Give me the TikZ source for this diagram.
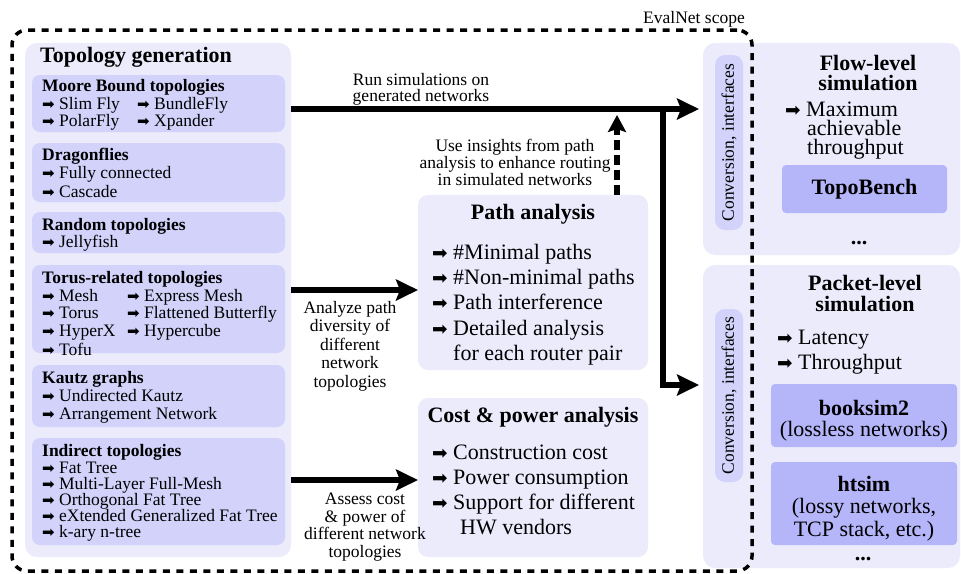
\documentclass[tikz,border=0pt]{standalone}
\usepackage{fontspec}
\setmainfont{Liberation Serif}
\newfontfamily\dejavu{DejaVu Sans}
\usetikzlibrary{arrows.meta}
\definecolor{lightp}{RGB}{235,235,252}
\definecolor{midp}{RGB}{210,210,251}
\definecolor{darkp}{RGB}{181,181,250}
\newcommand\fs{\fontsize{17.5}{17.5}\selectfont}
\newcommand\fl{\fontsize{22}{22}\selectfont}
\newcommand\arS{{\dejavu\fontsize{15}{15}\selectfont ➡}}
\newcommand\arL{{\dejavu\fontsize{18.5}{18.5}\selectfont ➡}}
\begin{document}
\begin{tikzpicture}[x=1pt,y=-1pt,
  panel/.style={fill=lightp, rounded corners=12pt, anchor=north west, inner sep=0pt, outer sep=0pt},
  subbox/.style={fill=midp, rounded corners=8pt, anchor=north west, inner sep=0pt, outer sep=0pt},
  toolbox/.style={fill=darkp, rounded corners=4pt, anchor=north west, inner sep=0pt, outer sep=0pt},
  txt/.style={anchor=base west, inner sep=0pt, font=\fs},
  txtc/.style={anchor=base, inner sep=0pt, font=\fs},
  btxt/.style={anchor=base west, inner sep=0pt, font=\fl},
  btxtc/.style={anchor=base, inner sep=0pt, font=\fl},
  tight/.style={text height=13pt, text depth=3pt},
  big/.style={line width=6pt, -{Stealth[length=22pt,width=21pt,inset=4pt]}},
  bigdash/.style={line width=6pt, dash pattern=on 10pt off 5pt, -{Stealth[length=17pt,width=18pt,inset=3pt]}},
  scopeline/.style={draw, line width=3.5pt, dash pattern=on 7pt off 6.5pt, rounded corners=15pt, anchor=north west, inner sep=0pt, outer sep=0pt}
]
\useasboundingbox (0,0) rectangle (961,573);

% ---------- left panel ----------
\node[panel, minimum width=266pt, minimum height=514pt] (topo) at (25,43) {};
\node[btxt, font=\fl\bfseries] (topot) at (40,62.5) {Topology generation};

\node[subbox, minimum width=253pt, minimum height=57pt] (s1) at (32,75) {};
\node[subbox, minimum width=253pt, minimum height=59pt] (s2) at (32,143) {};
\node[subbox, minimum width=253pt, minimum height=41pt] (s3) at (32,212) {};
\node[subbox, minimum width=253pt, minimum height=88pt] (s4) at (32,265) {};
\node[subbox, minimum width=253pt, minimum height=62pt] (s5) at (32,365) {};
\node[subbox, minimum width=253pt, minimum height=107pt] (s6) at (32,438) {};

\node[txt, font=\fs\bfseries] (s1t) at (42,91) {Moore Bound topologies};
\node[txt] (s1a) at (42,109) {\arS\ Slim Fly};
\node[txt] (s1b) at (137,109) {\arS\ BundleFly};
\node[txt] (s1c) at (42,126) {\arS\ PolarFly};
\node[txt] (s1d) at (137,126) {\arS\ Xpander};

\node[txt, font=\fs\bfseries] (s2t) at (42,160) {Dragonflies};
\node[txt] (s2a) at (42,178) {\arS\ Fully connected};
\node[txt] (s2b) at (42,197) {\arS\ Cascade};

\node[txt, font=\fs\bfseries] (s3t) at (42,230) {Random topologies};
\node[txt] (s3a) at (42,247.5) {\arS\ Jellyfish};

\node[txt, font=\fs\bfseries] (s4t) at (42,283) {Torus-related topologies};
\node[txt] (s4a) at (42,301) {\arS\ Mesh};
\node[txt] (s4b) at (127,301) {\arS\ Express Mesh};
\node[txt] (s4c) at (42,318.5) {\arS\ Torus};
\node[txt] (s4d) at (127,318.5) {\arS\ Flattened Butterfly};
\node[txt] (s4e) at (42,336.5) {\arS\ HyperX};
\node[txt] (s4f) at (127,336.5) {\arS\ Hypercube};
\node[txt] (s4g) at (42,355) {\arS\ Tofu};

\node[txt, font=\fs\bfseries] (s5t) at (42,383) {Kautz graphs};
\node[txt] (s5a) at (42,401) {\arS\ Undirected Kautz};
\node[txt] (s5b) at (42,419.5) {\arS\ Arrangement Network};

\node[txt, font=\fs\bfseries] (s6t) at (42,456) {Indirect topologies};
\node[txt] (s6a) at (42,473) {\arS\ Fat Tree};
\node[txt] (s6b) at (42,489) {\arS\ Multi-Layer Full-Mesh};
\node[txt] (s6c) at (42,505) {\arS\ Orthogonal Fat Tree};
\node[txt] (s6d) at (42,521) {\arS\ eXtended Generalized Fat Tree};
\node[txt] (s6e) at (42,537) {\arS\ k-ary n-tree};

% ---------- middle boxes ----------
\node[panel, rounded corners=10pt, minimum width=230pt, minimum height=175pt] (pa) at (418,195) {};
\node[btxtc, font=\fl\bfseries] (pat) at (533,219.5) {Path analysis};
\node[btxt] (pa1) at (432,259.6) {\arL\ \#Minimal paths};
\node[btxt] (pa2) at (432,284.6) {\arL\ \#Non-minimal paths};
\node[btxt] (pa3) at (432,309.6) {\arL\ Path interference};
\node[btxt] (pa4) at (432,335.6) {\arL\ Detailed analysis};
\node[btxt] (pa5) at (453,360.6) {for each router pair};

\node[panel, rounded corners=10pt, minimum width=230pt, minimum height=159pt] (cp) at (418,398) {};
\node[btxtc, font=\fl\bfseries] (cpt) at (533,422.5) {Cost \& power analysis};
\node[btxt] (cp1) at (432,459.6) {\arL\ Construction cost};
\node[btxt] (cp2) at (432,484.6) {\arL\ Power consumption};
\node[btxt] (cp3) at (432,509.6) {\arL\ Support for different};
\node[btxt] (cp4) at (460,534.6) {HW vendors};

% ---------- right panels ----------
\node[panel, minimum width=257pt, minimum height=212pt] (flow) at (703,43) {};
\node[subbox, rounded corners=10pt, minimum width=28pt, minimum height=175pt] (cv1box) at (715,55) {};
\node[txtc, anchor=center, rotate=90] (cv1) at (cv1box.center) {Conversion, interfaces};
\node[btxtc, font=\fl\bfseries] (flt1) at (868,70) {Flow-level};
\node[btxtc, font=\fl\bfseries] (flt2) at (868,90.5) {simulation};
\node[btxt, tight] (fl1) at (785,116.3) {\arL\ Maximum};
\node[btxt, tight] (fl2) at (807,135.5) {achievable};
\node[btxt, tight] (fl3) at (807,154.5) {throughput};
\node[toolbox, minimum width=165pt, minimum height=48pt] (tb) at (782,165) {};
\node[font=\fl\bfseries, inner sep=0pt] (tbt) at (tb.center) {TopoBench};
\node[btxtc, font=\fl\bfseries] (fldots) at (859,244) {...};

\node[panel, minimum width=257pt, minimum height=303pt] (packet) at (703,265) {};
\node[subbox, rounded corners=10pt, minimum width=28pt, minimum height=173pt] (cv2box) at (715,309) {};
\node[txtc, anchor=center, rotate=90] (cv2) at (cv2box.center) {Conversion, interfaces};
\node[btxtc, font=\fl\bfseries] (pkt1) at (865,290.5) {Packet-level};
\node[btxtc, font=\fl\bfseries] (pkt2) at (865,311) {simulation};
\node[btxt] (pk1) at (777,344.6) {\arL\ Latency};
\node[btxt] (pk2) at (777,369.6) {\arL\ Throughput};
\node[toolbox, minimum width=186pt, minimum height=63pt] (bs) at (771,384) {};
\node[btxtc, font=\fl\bfseries] (bs1) at (864,415) {booksim2};
\node[btxtc] (bs2) at (864,436.7) {(lossless networks)};
\node[toolbox, minimum width=186pt, minimum height=83pt] (ht) at (771,462) {};
\node[btxtc, font=\fl\bfseries] (ht1) at (864,491.7) {htsim};
\node[btxtc] (ht2) at (864,513) {(lossy networks,};
\node[btxtc] (ht3) at (864,536.3) {TCP stack, etc.)};
\node[btxtc, font=\fl\bfseries] (pkdots) at (863,560) {...};

% ---------- connectors ----------
\coordinate (j) at (663,109);
\coordinate (k) at (663,385);
\coordinate (d) at (617,115);
\coordinate (a2) at (300,290);
\coordinate (a3) at (300,480);

\draw[big, shorten >=4pt] (topo.east |- j) -- (flow.west |- j);
\draw[big, shorten >=4pt] ([yshift=-3pt]j) |- (packet.west |- k);
\draw[bigdash] (d |- pa.north) -- (d);
\draw[big] (topo.east |- a2) -- (pa.west |- a2);
\draw[big] (topo.east |- a3) -- (cp.west |- a3);

% ---------- connector labels ----------
\node[txtc] (l1a) at (421,85) {Run simulations on};
\node[txtc] (l1b) at (421,101.5) {generated networks};

\node[txtc] (l2a) at (515,151.5) {Use insights from path};
\node[txtc] (l2b) at (515,168.5) {analysis to enhance routing};
\node[txtc] (l2c) at (515,185.5) {in simulated networks};

\node[txtc] (l3a) at (350,313.3) {Analyze path};
\node[txtc] (l3b) at (350,331.8) {diversity of};
\node[txtc] (l3c) at (350,350.2) {different};
\node[txtc] (l3d) at (350,368.6) {network};
\node[txtc] (l3e) at (350,387) {topologies};

\node[txtc] (l4a) at (365,504.6) {Assess cost};
\node[txtc] (l4b) at (365,522) {\& power of};
\node[txtc] (l4c) at (365,539.5) {different network};
\node[txtc] (l4d) at (365,557) {topologies};

% ---------- scope ----------
\node[scopeline, minimum width=740pt, minimum height=541pt] (scope) at (12,30) {};
\node[txtc] (scopet) at (694,23.3) {EvalNet scope};
\end{tikzpicture}
\end{document}
